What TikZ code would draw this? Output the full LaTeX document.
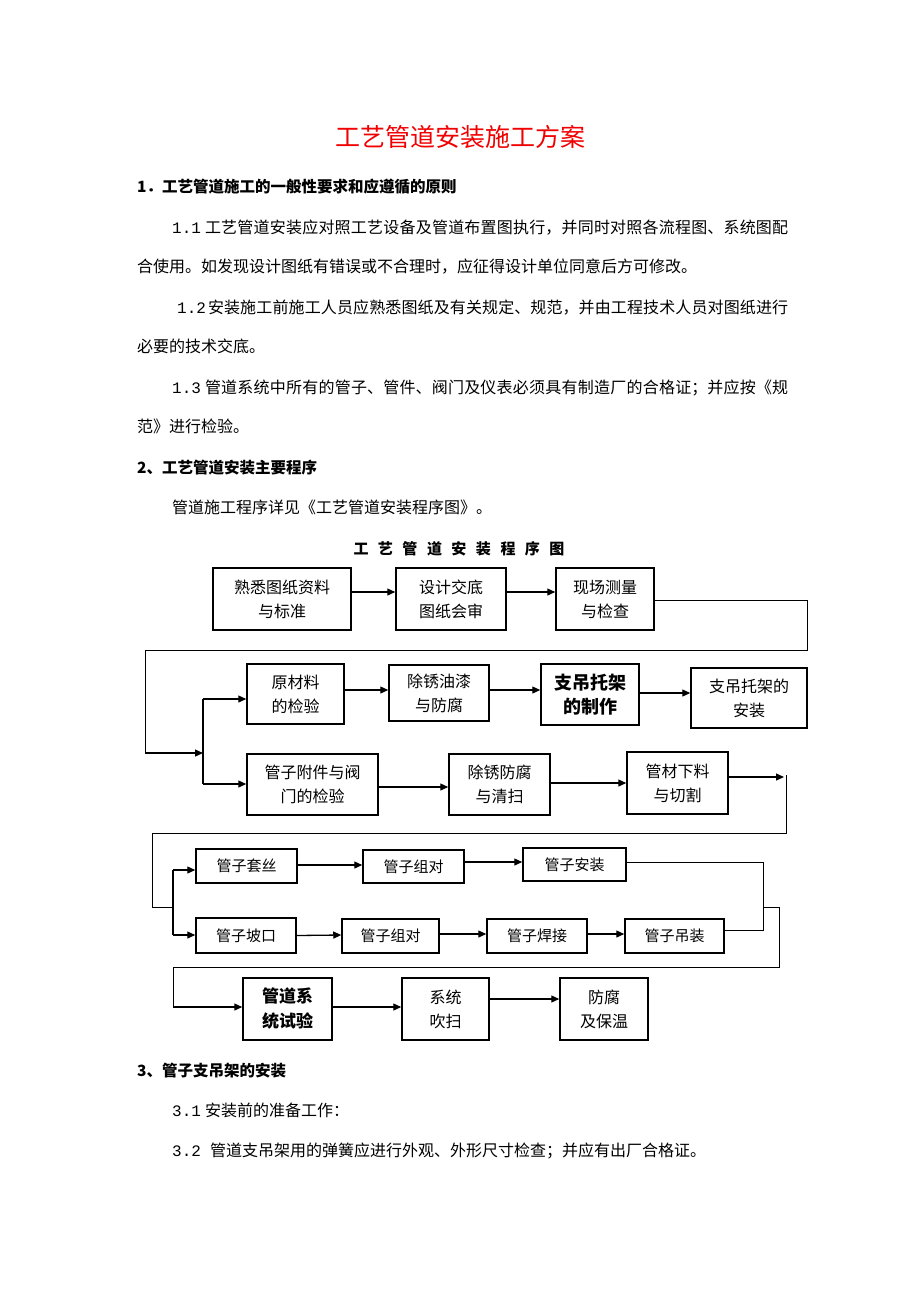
\documentclass[tikz,border=0pt]{standalone}
\usepackage{fontspec}
\setmainfont{Noto Sans CJK SC}
\newfontfamily\mono{Liberation Mono}
\usetikzlibrary{arrows.meta}
\XeTeXlinebreaklocale "zh"
\XeTeXlinebreakskip=0pt plus 1pt
\newcommand\jline[2]{\parbox[b]{#1}{\parindent=0pt\parfillskip=0pt\rightskip=0pt\leftskip=0pt #2}}
\definecolor{titlered}{RGB}{240,0,0}
\begin{document}
\begin{tikzpicture}[x=1pt,y=-1pt,
  txt/.style={anchor=base west, inner sep=0pt, font=\fontsize{16}{16}\selectfont, text=black},
  hd/.style={anchor=base west, inner sep=0pt, font=\fontsize{15.5}{16}\selectfont\bfseries, text=black},
  box/.style={draw=black, line width=1.5pt, inner sep=0pt, align=center, font=\fontsize{16}{24}\selectfont},
  sbox/.style={box, font=\fontsize{15}{20}\selectfont},
  bbox/.style={box, font=\fontsize{18}{24}\selectfont\bfseries},
  arr/.style={line width=1.3pt, -{Triangle[length=8pt,width=7pt]}},
  route/.style={line width=1pt},
  junc/.style={line width=1.3pt},
]
\fill[white] (0,0) rectangle (920,1302);
\useasboundingbox (0,0) rectangle (920,1302);

% ---------- text ----------
\node[anchor=base, inner sep=0pt, font=\fontsize{25}{25}\selectfont, text=titlered] (title) at (460,146) {工艺管道安装施工方案};
\node[hd] (h1) at (137,192) {1．工艺管道施工的一般性要求和应遵循的原则};
\node[txt] (p11) at (172,233) {\jline{616pt}{{\mono 1.1}\hspace{4pt}工艺管道安装应对照工艺设备及管道布置图执行，并同时对照各流程图、系统图配}};
\node[txt] (p11b) at (137,272) {合使用。如发现设计图纸有错误或不合理时，应征得设计单位同意后方可修改。};
\node[txt] (p12) at (177,313) {\jline{611pt}{{\mono 1.2}\hspace{2pt}安装施工前施工人员应熟悉图纸及有关规定、规范，并由工程技术人员对图纸进行}};
\node[txt] (p12b) at (137,352) {必要的技术交底。};
\node[txt] (p13) at (172,393) {\jline{616pt}{{\mono 1.3}\hspace{4pt}管道系统中所有的管子、管件、阀门及仪表必须具有制造厂的合格证；并应按《规}};
\node[txt] (p13b) at (137,432) {范》进行检验。};
\node[hd] (h2) at (137,473) {2、工艺管道安装主要程序};
\node[txt] (p2) at (172,513) {管道施工程序详见《工艺管道安装程序图》。};
\node[anchor=base, inner sep=0pt, font=\fontsize{15}{15}\selectfont\bfseries] (ct) at (459,554)
  {工\hspace{9.5pt}艺\hspace{9.5pt}管\hspace{9.5pt}道\hspace{9.5pt}安\hspace{9.5pt}装\hspace{9.5pt}程\hspace{9.5pt}序\hspace{9.5pt}图};
\node[hd] (h3) at (137,1076) {3、管子支吊架的安装};
\node[txt] (p31) at (172,1116) {{\mono 3.1}\hspace{4pt}安装前的准备工作：};
\node[txt] (p32) at (172,1156) {{\mono 3.2}\hspace{9pt}管道支吊架用的弹簧应进行外观、外形尺寸检查；并应有出厂合格证。};

% ---------- boxes ----------
\node[box, minimum width=138pt, minimum height=62pt] (b1) at (282,599) {熟悉图纸资料\\与标准};
\node[box, minimum width=110pt, minimum height=62pt] (b2) at (451,599) {设计交底\\图纸会审};
\node[box, minimum width=98pt, minimum height=62pt] (b3) at (605,599) {现场测量\\与检查};

\node[box, minimum width=97pt, minimum height=60pt] (b4) at (295.5,694) {原材料\\的检验};
\node[box, minimum width=100pt, minimum height=56pt] (b5) at (439,693) {除锈油漆\\与防腐};
\node[bbox, minimum width=98pt, minimum height=61pt] (b6) at (590,694.5) {支吊托架\\的制作};
\node[box, minimum width=116pt, minimum height=60pt] (b7) at (749,698) {支吊托架的\\安装};

\node[box, minimum width=131pt, minimum height=61pt] (b8) at (312.5,784.5) {管子附件与阀\\门的检验};
\node[box, minimum width=101pt, minimum height=61pt] (b9) at (499.5,784.5) {除锈防腐\\与清扫};
\node[box, minimum width=101pt, minimum height=62pt] (b10) at (677.5,783) {管材下料\\与切割};

\node[sbox, minimum width=101pt, minimum height=34pt] (b11) at (246.5,866) {管子套丝};
\node[sbox, minimum width=101pt, minimum height=33pt] (b12) at (413.5,866.5) {管子组对};
\node[sbox, minimum width=103pt, minimum height=33pt] (b13) at (574.5,864.5) {管子安装};

\node[sbox, minimum width=100pt, minimum height=35pt] (b14) at (246,935.5) {管子坡口};
\node[sbox, minimum width=97pt, minimum height=34pt] (b15) at (390.5,936) {管子组对};
\node[sbox, minimum width=100pt, minimum height=34pt] (b16) at (537,936) {管子焊接};
\node[sbox, minimum width=99pt, minimum height=34pt] (b17) at (674.5,936) {管子吊装};

\node[bbox, font=\fontsize{17}{25}\selectfont\bfseries, minimum width=89pt, minimum height=62pt] (b18) at (287.5,1009) {管道系\\统试验};
\node[box, minimum width=87pt, minimum height=62pt] (b19) at (445.5,1009) {系统\\吹扫};
\node[box, minimum width=88pt, minimum height=62pt] (b20) at (604,1009) {防腐\\及保温};

% ---------- connectors ----------
\draw[arr] ([yshift=7pt]b1.east) -- ([yshift=7pt]b2.west);
\draw[arr] ([yshift=7pt]b2.east) -- ([yshift=7pt]b3.west);

\coordinate (c0) at (807,600);
\coordinate (c1) at (807,650);
\coordinate (c2) at (145,650);
\coordinate (c3) at (145,753);
\coordinate (j1) at (203,753);
\coordinate (j1t) at (203,699);
\coordinate (j1b) at (203,784);
\draw[route] ([yshift=-1pt]b3.east) -- (c0) -- (c1) -- (c2) -- (c3);
\draw[arr] (c3) -- (j1);
\draw[junc] (j1t) -- (j1b);
\draw[arr] (j1t) -- (j1t -| b4.west);
\draw[arr] (j1b) -- (j1b -| b8.west);

\draw[arr] ([yshift=4pt]b4.east) -- ([yshift=3pt]b5.west);
\draw[arr] ([yshift=3pt]b5.east) -- ([yshift=4.5pt]b6.west);
\draw[arr] ([yshift=1.5pt]b6.east) -- ([yshift=5pt]b7.west);

\draw[arr] ([yshift=-2.5pt]b8.east) -- ([yshift=-2.5pt]b9.west);
\draw[arr] ([yshift=1.5pt]b9.east) -- (b10.west);

\coordinate (e1) at (784,777);
\draw[arr] ([yshift=6pt]b10.east) -- (e1);
\coordinate (v1) at (786,775);
\coordinate (v2) at (786,833);
\coordinate (v3) at (152,833);
\coordinate (v4) at (152,907);
\coordinate (j2) at (173,907);
\coordinate (j2t) at (173,870);
\coordinate (j2b) at (173,935);
\draw[route] (v1) -- (v2) -- (v3) -- (v4) -- (j2);
\draw[junc] (j2t) -- (j2b);
\draw[arr] (j2t) -- (j2t -| b11.west);
\draw[arr] (j2b) -- (j2b -| b14.west);

\draw[arr] ([yshift=1pt]b11.east) -- ([yshift=1.5pt]b12.west);
\draw[arr] ([yshift=4.5pt]b12.east) -- ([yshift=2.5pt]b13.west);

\draw[arr] (b14.east) -- ([yshift=1pt]b15.west);
\draw[arr] ([yshift=2pt]b15.east) -- ([yshift=2pt]b16.west);
\draw[arr] ([yshift=2pt]b16.east) -- ([yshift=2pt]b17.west);

\coordinate (w1) at (763,862);
\coordinate (w2) at (763,930);
\draw[route] ([yshift=2.5pt]b13.east) -- (w1) -- (w2) -- (w2 -| b17.east);
\coordinate (w3) at (763,907);
\coordinate (w4) at (779,907);
\coordinate (w5) at (779,967);
\coordinate (w6) at (173,967);
\coordinate (w7) at (173,1007);
\draw[route] (w3) -- (w4) -- (w5) -- (w6) -- (w7);
\draw[arr] (w7) -- (w7 -| b18.west);

\draw[arr] ([yshift=2pt]b18.east) -- ([yshift=2pt]b19.west);
\draw[arr] ([yshift=10pt]b19.east) -- ([yshift=10pt]b20.west);
\end{tikzpicture}
\end{document}
